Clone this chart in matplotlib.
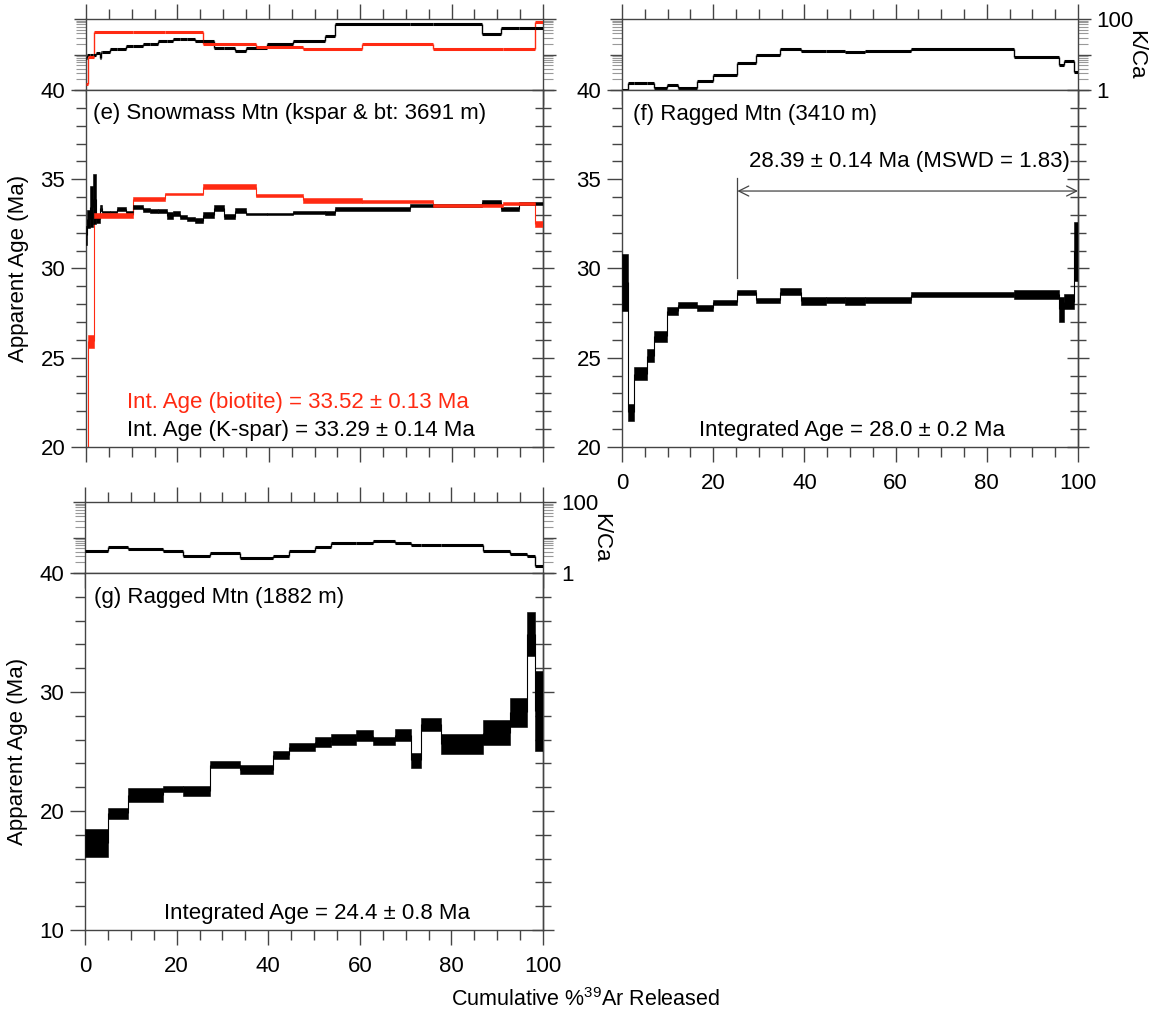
import numpy as np
import matplotlib
matplotlib.use('Agg')
import matplotlib.pyplot as plt
from matplotlib.ticker import MultipleLocator, LogLocator, NullFormatter, FixedLocator, FixedFormatter

plt.rcParams['font.family'] = ['Liberation Sans', 'DejaVu Sans']
plt.rcParams['mathtext.fontset'] = 'custom'
plt.rcParams['mathtext.rm'] = 'Liberation Sans'
plt.rcParams['mathtext.it'] = 'Liberation Sans:italic'

# ---------------- Panel (e): Snowmass Mtn, K-feldspar ----------------
e_ksp_cum = [0, 0.3, 0.9, 1.5, 2.1, 3.0, 3.3, 3.6, 5.2, 6.8, 8.7, 10.3, 12.4, 14.1, 15.8,
             17.7, 19.1, 20.6, 22.2, 23.9, 25.7, 27.9, 30.3, 32.7, 35.1, 39.6, 45.3, 52.2,
             54.5, 70.9, 76.0, 86.6, 90.9, 94.8, 98.3, 100]
e_ksp_age = [31.85, 32.75, 33.45, 33.9, 32.8, 33.4, 33.4, 33.15, 33.15, 33.34, 33.16, 33.46,
             33.28, 33.22, 33.22, 32.95, 33.08, 32.88, 32.76, 32.68, 33.0, 33.38, 32.9, 33.23,
             33.05, 33.05, 33.14, 33.1, 33.33, 33.52, 33.53, 33.7, 33.34, 33.63, 33.63]
e_ksp_err = [0.55, 0.5, 1.15, 1.4, 0.25, 0.17, 0.17, 0.06, 0.06, 0.11, 0.08, 0.12, 0.1, 0.1,
             0.1, 0.2, 0.14, 0.13, 0.12, 0.13, 0.18, 0.18, 0.15, 0.14, 0.07, 0.07, 0.09, 0.13,
             0.13, 0.08, 0.07, 0.14, 0.12, 0.07, 0.07]
e_ksp_kca = [7.9, 9.8, 9.8, 9.8, 11.0, 7.9, 11.5, 11.5, 14.5, 14.5, 17.0, 17.0, 19.5, 19.5,
             24.5, 24.5, 28.0, 28.0, 28.0, 24.5, 24.5, 14.8, 14.8, 12.3, 14.8, 19.5, 24.5,
             34.0, 72.0, 72.0, 72.0, 38.0, 55.0, 55.0, 55.0]

# ---------------- Panel (e): Snowmass Mtn, biotite ----------------
e_bt_cum = [0, 0.5, 1.8, 10.2, 17.2, 25.6, 37.3, 47.5, 60.4, 76.0, 91.2, 98.3, 100]
e_bt_age = [12.0, 25.92, 32.99, 33.9, 34.17, 34.58, 34.08, 33.81, 33.73, 33.53, 33.63, 32.48]
e_bt_err = [1.0, 0.35, 0.14, 0.12, 0.08, 0.13, 0.09, 0.12, 0.08, 0.07, 0.07, 0.18]
e_bt_kca = [1.5, 8.3, 43.0, 43.0, 43.0, 19.5, 16.6, 14.1, 19.5, 14.1, 14.1, 85.0]

# ---------------- Panel (f): Ragged Mtn 3410 m ----------------
f_cum = [0, 1.35, 2.7, 5.4, 7.1, 9.9, 12.2, 16.4, 20.0, 25.3, 29.3, 34.7, 39.2, 44.7, 48.9,
         53.3, 63.3, 85.9, 95.8, 97.0, 99.2, 100]
f_age = [29.22, 21.94, 24.1, 25.12, 26.21, 27.62, 27.93, 27.8, 28.1, 28.66, 28.21, 28.7,
         28.17, 28.23, 28.17, 28.23, 28.54, 28.55, 27.71, 28.14, 30.97]
f_err = [1.58, 0.48, 0.36, 0.35, 0.31, 0.24, 0.17, 0.16, 0.15, 0.14, 0.12, 0.18, 0.21, 0.18,
         0.21, 0.18, 0.16, 0.25, 0.71, 0.43, 1.65]
f_kca = [1.0, 1.55, 1.55, 1.55, 1.17, 1.35, 1.17, 1.78, 2.57, 5.6, 9.8, 14.5, 12.6, 12.6,
         11.5, 12.6, 14.5, 8.3, 4.9, 6.6, 3.3]
f_plateau = [25.3, 100]
f_plateau_text = "28.39 ± 0.14 Ma (MSWD = 1.83)"

# ---------------- Panel (g): Ragged Mtn 1882 m ----------------
g_cum = [0, 5.0, 9.4, 17.1, 21.4, 27.2, 33.9, 41.0, 44.6, 50.3, 53.8, 59.2, 62.8, 67.7,
         71.2, 73.4, 77.8, 86.8, 92.9, 96.4, 98.3, 100]
g_age = [17.32, 19.8, 21.35, 21.84, 21.66, 23.9, 23.48, 24.68, 25.38, 25.8, 25.98, 26.32,
         25.88, 26.4, 24.26, 27.28, 25.62, 26.57, 28.3, 34.86, 28.4]
g_err = [1.2, 0.45, 0.59, 0.24, 0.42, 0.28, 0.37, 0.35, 0.35, 0.43, 0.45, 0.45, 0.36, 0.53,
         0.63, 0.56, 0.82, 1.04, 1.22, 1.83, 3.37]
g_kca = [4.1, 5.4, 4.6, 4.1, 3.1, 3.6, 2.6, 3.1, 4.1, 5.4, 7.1, 7.1, 7.9, 7.1, 6.0, 6.0,
         6.0, 4.1, 3.5, 3.0, 1.55]

RED = '#ff2a12'
SPINE = '#444444'
FS = 16

W, H = 1165, 1015
fig = plt.figure(figsize=(W / 100, H / 100), dpi=100)


def rect(x0, x1, y0, y1):
    return [x0 / W, 1 - y1 / H, (x1 - x0) / W, (y1 - y0) / H]


def spectrum(ax, cum, age, err, color):
    cum = np.asarray(cum, float)
    age = np.asarray(age, float)
    err = np.asarray(err, float)
    ax.bar(cum[:-1], 2 * err, width=np.diff(cum), bottom=age - err, align='edge',
           color=color, edgecolor=color, linewidth=0.4, zorder=3)
    ax.vlines(cum[1:-1], age[:-1], age[1:], color=color, lw=0.8, zorder=2)


def kca_steps(ax, cum, kca, color):
    cum = np.asarray(cum, float)
    kca = np.asarray(kca, float)
    ax.hlines(kca, cum[:-1], cum[1:], color=color, lw=2.2, zorder=3)
    ax.vlines(cum[1:-1], kca[:-1], kca[1:], color=color, lw=1.0, zorder=2)


def style_spines(ax):
    for s in ax.spines.values():
        s.set_color(SPINE)
        s.set_linewidth(1.0)


def setup_main(ax, ylim, ymaj, ymin, xlabels):
    ax.set_xlim(0, 100)
    ax.set_ylim(*ylim)
    style_spines(ax)
    ax.xaxis.set_major_locator(MultipleLocator(20))
    ax.xaxis.set_minor_locator(MultipleLocator(5))
    ax.yaxis.set_major_locator(MultipleLocator(ymaj))
    ax.yaxis.set_minor_locator(MultipleLocator(ymin))
    ax.tick_params(axis='x', which='both', direction='out', top=False, bottom=True,
                   labelbottom=xlabels, labelsize=FS, color=SPINE, pad=8)
    ax.tick_params(axis='x', which='major', length=11, width=1.0)
    ax.tick_params(axis='x', which='minor', length=7, width=1.0)
    ax.tick_params(axis='y', which='both', direction='out', left=True, right=False,
                   labelsize=FS, color=SPINE, pad=4)
    ax.tick_params(axis='y', which='major', length=11, width=1.0)
    ax.tick_params(axis='y', which='minor', length=7, width=1.0)
    sec = ax.secondary_yaxis('right')
    sec.yaxis.set_major_locator(MultipleLocator(ymaj))
    sec.yaxis.set_minor_locator(MultipleLocator(ymin))
    sec.tick_params(which='both', direction='inout', labelright=False, color=SPINE)
    sec.tick_params(which='major', length=16, width=1.0)
    sec.tick_params(which='minor', length=12, width=1.0)
    sec.spines['right'].set_color(SPINE)
    sec.spines['right'].set_linewidth(1.0)


def setup_kca(ax, right_labels):
    ax.set_xlim(0, 100)
    ax.set_yscale('log')
    ax.set_ylim(1, 100)
    style_spines(ax)
    ax.xaxis.set_major_locator(MultipleLocator(20))
    ax.xaxis.set_minor_locator(MultipleLocator(5))
    ax.tick_params(axis='x', which='both', direction='out', top=True, bottom=True,
                   labelbottom=False, labeltop=False, color=SPINE)
    ax.tick_params(axis='x', which='major', length=11, width=1.0)
    ax.tick_params(axis='x', which='minor', length=7, width=1.0)
    ax.yaxis.set_major_locator(FixedLocator([1, 10, 100]))
    ax.yaxis.set_minor_locator(LogLocator(base=10, subs=np.arange(2, 10)))
    ax.yaxis.set_minor_formatter(NullFormatter())
    ax.tick_params(axis='y', which='both', direction='out', left=True, right=True,
                   labelleft=False, labelright=right_labels, labelsize=FS, pad=4)
    ax.tick_params(axis='y', which='major', length=9, width=1.0, color=SPINE)
    ax.tick_params(axis='y', which='minor', length=7, width=0.8, color='#999999')
    if right_labels:
        ax.yaxis.set_major_formatter(FixedFormatter(['1', '', '100']))
        ax.yaxis.set_label_position('right')
        ax.set_ylabel('K/Ca', rotation=270, fontsize=FS, labelpad=9)


# ---------------- Panel e ----------------
EX0, EX1 = 86, 543
axe_k = fig.add_axes(rect(EX0, EX1, 19, 90))
axe = fig.add_axes(rect(EX0, EX1, 90, 447))
setup_kca(axe_k, False)
kca_steps(axe_k, e_ksp_cum, e_ksp_kca, 'black')
kca_steps(axe_k, e_bt_cum, e_bt_kca, RED)
setup_main(axe, (20, 40), 5, 1, False)
spectrum(axe, e_ksp_cum, e_ksp_age, e_ksp_err, 'black')
spectrum(axe, e_bt_cum, e_bt_age, e_bt_err, RED)
axe.set_ylabel('Apparent Age (Ma)', fontsize=FS, labelpad=8)
axe.text(1.5, 38.7, '(e) Snowmass Mtn (kspar & bt: 3691 m)', fontsize=FS, va='center')
axe.text(9.0, 22.5, 'Int. Age (biotite) = 33.52 ± 0.13 Ma', fontsize=FS, va='center',
         color=RED)
axe.text(9.0, 20.95, 'Int. Age (K-spar) = 33.29 ± 0.14 Ma', fontsize=FS, va='center')

# ---------------- Panel f ----------------
FX0, FX1 = 622, 1078
axf_k = fig.add_axes(rect(FX0, FX1, 19, 90))
axf = fig.add_axes(rect(FX0, FX1, 90, 447))
setup_kca(axf_k, True)
kca_steps(axf_k, f_cum, f_kca, 'black')
setup_main(axf, (20, 40), 5, 1, True)
spectrum(axf, f_cum, f_age, f_err, 'black')
axf.text(2.4, 38.6, '(f) Ragged Mtn (3410 m)', fontsize=FS, va='center')
axf.plot([f_plateau[0], f_plateau[0]], [29.45, 35.05], color=SPINE, lw=0.9)
axf.annotate('', xy=(f_plateau[1], 34.34), xytext=(f_plateau[0], 34.34),
             arrowprops=dict(arrowstyle='<->', color=SPINE, lw=0.9,
                             shrinkA=0, shrinkB=0, mutation_scale=18))
axf.text(98.3, 35.98, f_plateau_text, fontsize=FS, va='center', ha='right')
axf.text(50.5, 20.95, 'Integrated Age = 28.0 ± 0.2 Ma', fontsize=FS, va='center',
         ha='center')

# ---------------- Panel g ----------------
GX0, GX1 = 85, 543
axg_k = fig.add_axes(rect(GX0, GX1, 502, 573))
axg = fig.add_axes(rect(GX0, GX1, 573, 930))
setup_kca(axg_k, True)
kca_steps(axg_k, g_cum, g_kca, 'black')
setup_main(axg, (10, 40), 10, 2, True)
spectrum(axg, g_cum, g_age, g_err, 'black')
axg.set_ylabel('Apparent Age (Ma)', fontsize=FS, labelpad=8)
axg.text(1.9, 37.95, '(g) Ragged Mtn (1882 m)', fontsize=FS, va='center')
axg.text(50.7, 11.4, 'Integrated Age = 24.4 ± 0.8 Ma', fontsize=FS, va='center',
         ha='center')

fig.text(451 / W, 1 - 1000 / H, 'Cumulative %$^{39}$Ar Released', fontsize=15.5,
         ha='left', va='center')

fig.savefig('out.png', dpi=100)
